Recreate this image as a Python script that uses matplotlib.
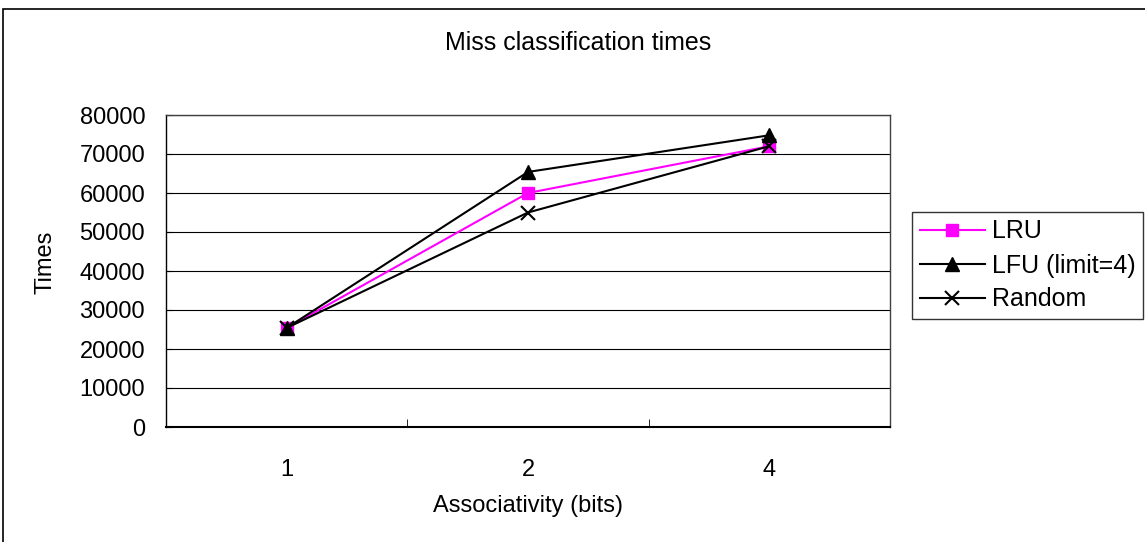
import matplotlib.pyplot as plt
from matplotlib.patches import Rectangle

categories = ['1', '2', '4']
lru = [25400, 60000, 72000]
lfu = [25400, 65400, 74800]
rnd = [25400, 55000, 72000]

plt.rcParams['font.family'] = ['Liberation Sans', 'DejaVu Sans']
fs = 17

fig = plt.figure(figsize=(11.45, 5.42), dpi=100)
ax = fig.add_axes([166 / 1145, 115 / 542, 724 / 1145, 312 / 542])

x = range(len(categories))
ax.plot(x, lru, color='#ff00ff', marker='s', markersize=8.5, linewidth=1.5, label='LRU')
ax.plot(x, lfu, color='black', marker='^', markersize=9.5, linewidth=1.5, label='LFU (limit=4)')
ax.plot(x, rnd, color='black', marker='x', markersize=10, markeredgewidth=1.5, linewidth=1.5, label='Random')

ax.set_xlim(-0.5, 2.5)
ax.set_ylim(0, 80000)
ax.set_yticks(range(0, 80001, 10000))
ax.yaxis.grid(True, color='black', linewidth=0.8)
ax.set_axisbelow(True)
ax.tick_params(axis='y', direction='in', length=4, labelsize=fs, pad=15)
ax.set_xticks(list(x))
ax.set_xticklabels(categories)
ax.tick_params(axis='x', which='major', length=0, labelsize=fs, pad=23)
ax.set_xticks([0.5, 1.5], minor=True)
ax.tick_params(axis='x', which='minor', direction='in', length=6)
for s in ax.spines.values():
    s.set_color('#404040')
    s.set_linewidth(1.0)
ax.spines['left'].set_color('black')
ax.spines['bottom'].set_color('black')
ax.spines['bottom'].set_linewidth(1.5)

ax.set_xlabel('Associativity (bits)', fontsize=fs, labelpad=10)
fig.text(46 / 1145, 1 - 262 / 542, 'Times', rotation=90, fontsize=fs,
         ha='center', va='center')
fig.text(578 / 1145, 1 - 43 / 542, 'Miss classification times', fontsize=18,
         ha='center', va='center')

leg = ax.legend(loc='upper left', bbox_to_anchor=(912 / 1145, 1 - 212 / 542),
                bbox_transform=fig.transFigure, fontsize=18, frameon=True,
                fancybox=False, edgecolor='black', handlelength=2.6,
                borderpad=0.3, labelspacing=0.4, handletextpad=0.3,
                borderaxespad=0)
leg.get_frame().set_linewidth(1.0)

fig.patches.append(Rectangle((3 / 1145, -0.05), 1.2, 1.05 - 9 / 542,
                             transform=fig.transFigure, fill=False,
                             edgecolor='black', linewidth=1.2))

fig.savefig('out.png', dpi=100)
